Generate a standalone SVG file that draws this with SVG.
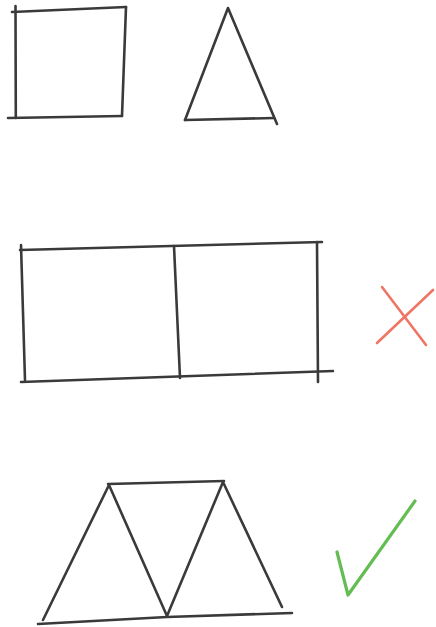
<svg xmlns="http://www.w3.org/2000/svg" width="436" height="627" viewBox="0 0 436 627">
<style>
.ink{fill:none;stroke:#3a3a3a;stroke-width:2.6;stroke-linecap:round;stroke-linejoin:round}
.bad{fill:none;stroke:#ef7565;stroke-width:2.6;stroke-linecap:round}
.good{fill:none;stroke:#63bd52;stroke-width:3.2;stroke-linecap:round;stroke-linejoin:round}
</style>
<rect width="436" height="627" fill="#ffffff"/>
<g id="square">
<path class="ink" d="M15.5 6 L15.8 118"/>
<path class="ink" d="M12 12 L126 7"/>
<path class="ink" d="M126 7 L122 116"/>
<path class="ink" d="M8 118 L122 116"/>
</g>
<g id="triangle">
<path class="ink" d="M185 120 L228 8 L277 124"/>
<path class="ink" d="M185 120 L274 118"/>
</g>
<g id="rectangles">
<path class="ink" d="M20 250 L322 242"/>
<path class="ink" d="M21 245 L25 380"/>
<path class="ink" d="M174 246 L180 378"/>
<path class="ink" d="M317 242 L318 382"/>
<path class="ink" d="M21 382 L333 371"/>
</g>
<g id="cross">
<path class="bad" d="M382 287 L426 345"/>
<path class="bad" d="M433 290 L377 343"/>
</g>
<g id="triangles">
<path class="ink" d="M108 484 L224 481"/>
<path class="ink" d="M43 620 L109 485 L167 616 L223 482 L282 607"/>
<path class="ink" d="M38 624 L167 617 L292 613"/>
</g>
<g id="check">
<path class="good" d="M337 552 L348 595 L415 501"/>
</g>
</svg>
